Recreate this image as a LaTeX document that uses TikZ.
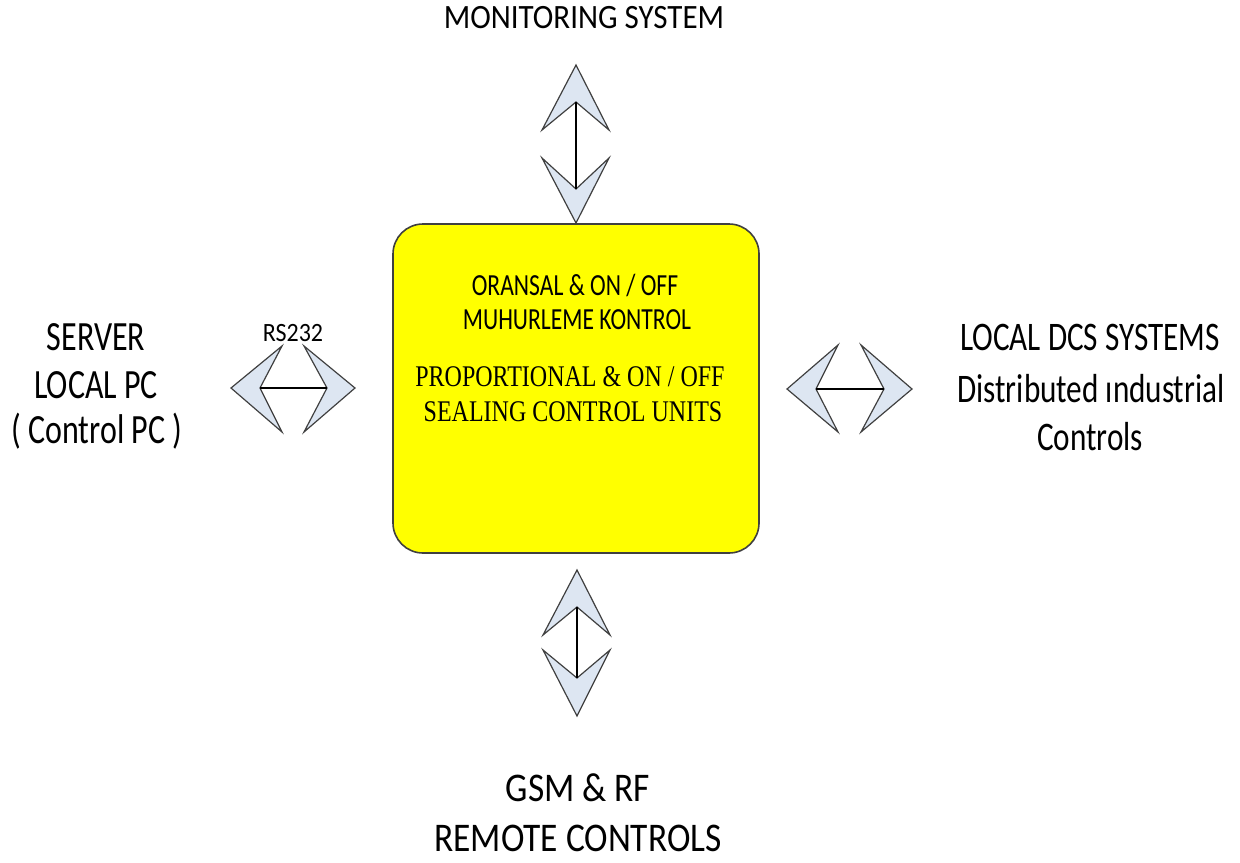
\documentclass[tikz,border=0pt]{standalone}
\usepackage{graphicx}
\usepackage{fontspec}
\setmainfont{Carlito}
\newfontfamily\serifx{Liberation Serif}
\newcommand{\stretchy}[2]{\scalebox{1}[#1]{#2}}
\definecolor{arrowblue}{HTML}{DDE6F2}
\definecolor{edgegray}{HTML}{404040}
\definecolor{boxyellow}{HTML}{FFFF00}
\tikzset{
  dblhead/.style={draw=edgegray, fill=arrowblue, line width=0.6pt, line join=miter},
  shaft/.style={draw=black, line width=0.7pt},
  toplbl/.style={inner sep=0pt, font=\fontsize{15.5}{18}\selectfont},
  leftlbl/.style={inner sep=0pt, font=\fontsize{16}{18}\selectfont},
  rightlbl/.style={inner sep=0pt, font=\fontsize{15.6}{18}\selectfont},
  botlbl/.style={inner sep=0pt, font=\fontsize{17.7}{20}\selectfont},
  boxtxt/.style={inner sep=0pt, font=\fontsize{11.8}{13}\selectfont},
  boxser/.style={inner sep=0pt, font=\serifx\fontsize{12}{14}\selectfont},
}
\begin{document}
\begin{tikzpicture}[x=0.5pt,y=-0.5pt]
\useasboundingbox (0,0) rectangle (1240,862);
% central box
\node[draw=edgegray, line width=0.8pt, fill=boxyellow, rounded corners=15pt,
      minimum width=183pt, minimum height=164.5pt, inner sep=0pt] (box) at (576,388.5) {};
\node[boxtxt] (t1) at (575,285) {\stretchy{1.3}{ORANSAL \& ON / OFF}};
\node[boxtxt] (t2) at (577,320) {\stretchy{1.3}{MUHURLEME KONTROL}};
\node[boxser] (t3) at (570,377) {\stretchy{1.25}{PROPORTIONAL \& ON / OFF}};
\node[boxser] (t4) at (573,412) {\stretchy{1.25}{SEALING CONTROL UNITS}};
% labels
\node[toplbl] (mon) at (584,18) {\stretchy{1.1}{MONITORING SYSTEM}};
\node[leftlbl] (srv1) at (96,337) {\stretchy{1.3}{SERVER}};
\node[leftlbl] (srv2) at (96,385) {\stretchy{1.3}{LOCAL PC}};
\node[leftlbl] (srv3) at (97,431) {\stretchy{1.3}{( Control PC )}};
\node[rightlbl] (dcs1) at (1090,337) {\stretchy{1.3}{LOCAL DCS SYSTEMS}};
\node[rightlbl] (dcs2) at (1091,389) {\stretchy{1.3}{Distributed ındustrial}};
\node[rightlbl] (dcs3) at (1090,437) {\stretchy{1.3}{Controls}};
\node[botlbl] (gsm1) at (578,788) {\stretchy{1.15}{GSM \& RF}};
\node[botlbl] (gsm2) at (578,838) {\stretchy{1.15}{REMOTE CONTROLS}};
\node[inner sep=0pt, font=\fontsize{12}{14}\selectfont] (rs) at (293,333) {\stretchy{1.1}{RS232}};
% top double arrow
\coordinate (tA) at (576,65); \coordinate (tB) at (576,102);
\coordinate (tC) at (576,189); \coordinate (tD) at (576,223);
\draw[dblhead] (tA) -- (542,130) -- (tB) -- (609,130) -- cycle;
\draw[dblhead] (tD) -- (542,158) -- (tC) -- (609,158) -- cycle;
\draw[shaft] (tB) -- (tC);
% bottom double arrow
\coordinate (bA) at (577,570); \coordinate (bB) at (577,607);
\coordinate (bC) at (577,678); \coordinate (bD) at (577,716);
\draw[dblhead] (bA) -- (543,635) -- (bB) -- (610,635) -- cycle;
\draw[dblhead] (bD) -- (543,650) -- (bC) -- (610,650) -- cycle;
\draw[shaft] (bB) -- (bC);
% left double arrow
\coordinate (lA) at (231,388); \coordinate (lB) at (260,388);
\coordinate (lC) at (327,388); \coordinate (lD) at (355,388);
\draw[dblhead] (lA) -- (282,346) -- (lB) -- (282,432) -- cycle;
\draw[dblhead] (lD) -- (304,346) -- (lC) -- (304,432) -- cycle;
\draw[shaft] (lB) -- (lC);
% right double arrow
\coordinate (rA) at (787,389); \coordinate (rB) at (816,389);
\coordinate (rC) at (884,389); \coordinate (rD) at (912,389);
\draw[dblhead] (rA) -- (838,345) -- (rB) -- (838,432) -- cycle;
\draw[dblhead] (rD) -- (861,345) -- (rC) -- (861,432) -- cycle;
\draw[shaft] (rB) -- (rC);
\end{tikzpicture}
\end{document}
